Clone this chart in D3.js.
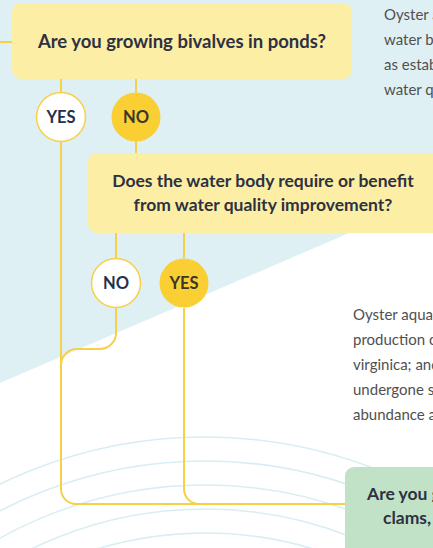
<!DOCTYPE html>
<html>
<head>
<meta charset="utf-8">
<script src="https://cdn.jsdelivr.net/npm/d3@7"></script>
<style>
  body { margin: 0; overflow: hidden; background: #fff; }
  svg { display: block; font-family: Lato, "Open Sans", sans-serif; }
</style>
</head>
<body>
<div id="chart"></div>
<script>
// Flowchart content
const questions = [
  "Are you growing bivalves in ponds?",
  "Does the water body require or benefit|from water quality improvement?",
  "Are you growing oysters, mussels,|clams, or scallops?"
];
const questionSize = [18.5, 17.5, 17.5];
const answers = ["YES", "NO", "NO", "YES"];
const answerFilled = [false, true, false, true];
const noteTop = [
  "Oyster aquaculture in this",
  "water body can be promoted",
  "as established by local",
  "water quality programs."
];
const noteMid = [
  "Oyster aquaculture has supported",
  "production of the eastern oyster, C.",
  "virginica; and wild stocks have",
  "undergone severe declines in",
  "abundance across the region."
];
const ringSteps = [0, 1, 2, 3, 4];

const W = 433, H = 548;
const YELLOW_BOX = "#fcefa5", YELLOW_LINE = "#f7d047", YELLOW_DOT = "#f9cf33";
const GREEN_BOX = "#c2e2c7", BLUE_BG = "#dff0f4", RING = "#d8eef3";
const INK = "#2e3142", GREY = "#505050";

const svg = d3.select("#chart").append("svg")
  .attr("width", W).attr("height", H);

// background: blue wedge above the diagonal
svg.append("rect").attr("width", W).attr("height", H).attr("fill", "#fff");
svg.append("path")
  .attr("d", "M0,0H" + W + "V197L0,383Z")
  .attr("fill", BLUE_BG);

// concentric rings at the bottom
const ringR = d3.scaleLinear().domain([0, 4]).range([470, 374]);
svg.append("g").selectAll("circle")
  .data(ringSteps)
  .enter().append("circle")
  .attr("cx", 205).attr("cy", 907)
  .attr("r", d => ringR(d))
  .attr("fill", "none")
  .attr("stroke", RING)
  .attr("stroke-width", 1.6);

// connector lines
const links = svg.append("g")
  .attr("fill", "none")
  .attr("stroke", YELLOW_LINE)
  .attr("stroke-width", 2);

function linkPath(build) {
  const p = d3.path();
  build(p);
  links.append("path").attr("d", p.toString());
}
linkPath(p => { p.moveTo(0, 42); p.lineTo(14, 42); });
linkPath(p => { p.moveTo(61, 78); p.lineTo(61, 92); });
linkPath(p => { p.moveTo(136, 78); p.lineTo(136, 155); });
linkPath(p => { p.moveTo(61, 142); p.arcTo(61, 504, 76, 504, 15); p.lineTo(347, 504); });
linkPath(p => { p.moveTo(116, 232); p.lineTo(116, 258); });
linkPath(p => { p.moveTo(184, 232); p.lineTo(184, 258); });
linkPath(p => { p.moveTo(116, 308); p.arcTo(116, 349, 100, 349, 16); p.arcTo(61, 349, 61, 365, 16); p.lineTo(61, 366); });
linkPath(p => { p.moveTo(184, 308); p.arcTo(184, 504, 199, 504, 15); p.lineTo(250, 504); });

// question boxes
const boxes = [
  {x: 12, y: 3, w: 340, h: 76, fill: YELLOW_BOX, cx: 182, y0: 48, anchor: "middle"},
  {x: 88, y: 153, w: 380, h: 80, fill: YELLOW_BOX, cx: 263, y0: 187, anchor: "middle"},
  {x: 345, y: 467, w: 160, h: 100, fill: GREEN_BOX, cx: 367, y0: 500, anchor: "start"}
];
const bg = svg.append("g").selectAll("g")
  .data(boxes)
  .enter().append("g");
bg.append("rect")
  .attr("x", d => d.x).attr("y", d => d.y)
  .attr("width", d => d.w).attr("height", d => d.h)
  .attr("rx", 9)
  .attr("fill", d => d.fill);
bg.each(function (d, k) {
  const lines = questions[k].split("|");
  d3.select(this).selectAll("text")
    .data(lines)
    .enter().append("text")
    .attr("x", (t, i) => d.anchor === "start" ? d.cx + i * 16 : d.cx)
    .attr("y", (t, i) => d.y0 + i * 24)
    .attr("text-anchor", d.anchor)
    .attr("font-size", questionSize[k])
    .attr("font-weight", 700)
    .attr("fill", INK)
    .text(t => t);
});

// answer bubbles
const bubbles = [
  {x: 61, y: 117}, {x: 136, y: 117}, {x: 116, y: 283}, {x: 184, y: 283}
];
const bb = svg.append("g").selectAll("g")
  .data(bubbles)
  .enter().append("g")
  .attr("transform", d => "translate(" + d.x + "," + d.y + ")");
bb.append("circle")
  .attr("r", 24.5)
  .attr("fill", (d, i) => answerFilled[i] ? YELLOW_DOT : "#fff")
  .attr("stroke", (d, i) => answerFilled[i] ? "none" : YELLOW_LINE)
  .attr("stroke-width", 1.5);
bb.append("text")
  .attr("text-anchor", "middle")
  .attr("dy", "0.36em")
  .attr("font-size", 16.5)
  .attr("font-weight", 700)
  .attr("fill", (d, i) => answerFilled[i] ? "#3a3628" : "#26304a")
  .text((d, i) => answers[i]);

// side notes
function note(lines, x, y0) {
  svg.append("g").selectAll("text")
    .data(lines)
    .enter().append("text")
    .attr("x", x)
    .attr("y", (d, i) => y0 + i * 25)
    .attr("font-size", 15)
    .attr("fill", GREY)
    .text(d => d);
}
note(noteTop, 384, 20);
note(noteMid, 353, 320);
</script>
</body>
</html>
